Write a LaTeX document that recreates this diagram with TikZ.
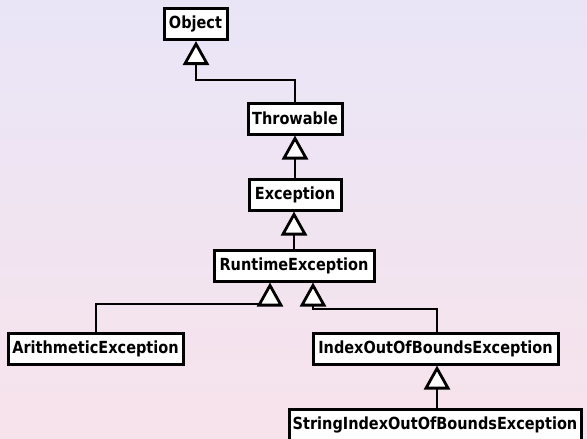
\documentclass[tikz,border=0pt]{standalone}
\usepackage{fontspec}
\setmainfont{DejaVu Sans}
\usetikzlibrary{arrows.meta}
\definecolor{bgtop}{RGB}{233,229,247}
\definecolor{bgbot}{RGB}{247,227,235}
\tikzset{
  cls/.style={draw=black, fill=white, line width=3pt, inner sep=0pt,
    font=\fontsize{14.5}{17}\selectfont\bfseries, minimum height=31pt},
  inh/.style={draw=black, line width=2.8pt,
    -{Triangle[open, length=24pt 0 0, width=26pt 0 0, fill=white]}},
}
\newcommand{\tl}[1]{\scalebox{1}[1.15]{#1}}
\begin{document}
\begin{tikzpicture}[x=1pt, y=-1pt]
\useasboundingbox (0,0) rectangle (587,439);
\clip (0,0) rectangle (587,439);
\shade[top color=bgtop, bottom color=bgbot] (0,0) rectangle (587,439);

\node[cls, minimum width=63pt]  (obj)   at (195.5,24)  {\tl{Object}};
\node[cls, minimum width=94pt]  (thr)   at (295,118.5) {\tl{Throwable}};
\node[cls, minimum width=92pt]  (exc)   at (295,194.5) {\tl{Exception}};
\node[cls, minimum width=160pt] (rt)    at (294,265.5) {\tl{RuntimeException}};
\node[cls, minimum width=175pt] (ari)   at (95.5,348.5) {\tl{ArithmeticException}};
\node[cls, minimum width=245pt] (ioob)  at (435.5,348.5) {\tl{IndexOutOfBoundsException}};
\node[cls, minimum width=292pt] (sioob) at (435,424.5) {\tl{StringIndexOutOfBoundsException}};

\coordinate (b1) at (196,80);
\coordinate (b2) at (96,304);
\coordinate (b3) at (437,309);

\draw[inh] (thr.north) |- (b1) -- (b1 |- obj.south);
\draw[inh] (exc.north) -- (thr.south);
\draw[inh] (rt.north) -- (rt.north |- exc.south);
\draw[inh] (ari.north -| b2) -- (b2) -| ([xshift=-24pt]rt.south);
\draw[inh] (ioob.north -| b3) -- (b3) -| ([xshift=19pt]rt.south);
\draw[inh] (sioob.north -| b3) -- (b3 |- ioob.south);
\end{tikzpicture}
\end{document}
